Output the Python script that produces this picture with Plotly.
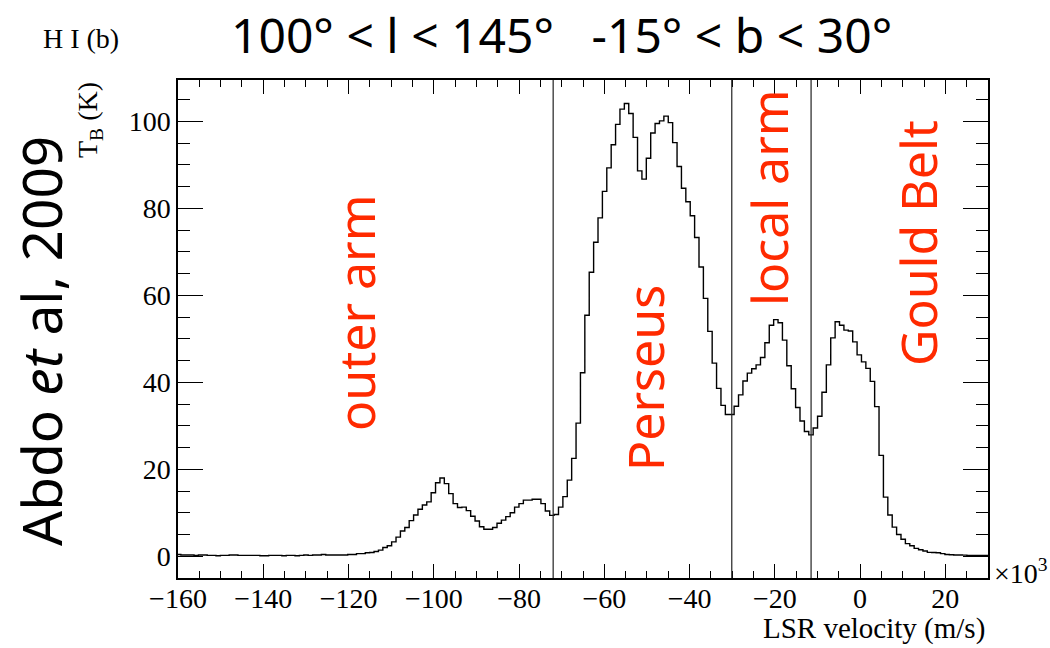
import numpy as np
import plotly.graph_objects as go

# ---- data ----
v_start = -160.36      # km/s, left edge of first channel
v_width = 1.03         # km/s, channel width
tb_values = [
    0.4, 0.3, 0.3, 0.3, 0.2, 0.3, 0.3, 0.2, 0.2, 0.1,
    0.2, 0.2, 0.3, 0.3, 0.2, 0.2, 0.2, 0.2, 0.2, 0.1,
    0.1, 0.2, 0.2, 0.2, 0.1, 0.2, 0.2, 0.1, 0.2, 0.3,
    0.2, 0.3, 0.3, 0.4,
    0.3, 0.3, 0.3, 0.3, 0.3, 0.4, 0.4, 0.6, 0.6, 0.8,
    0.85, 1.1, 1.4, 2.0, 2.4, 3.3, 4.4, 5.8, 6.6, 8.2,
    9.5, 10.8, 11.8, 12.5, 14.6, 16.9, 18.0, 16.7, 14.4, 12.1,
    11.2, 11.3, 10.5, 9.2, 8.1, 6.8, 6.2, 6.2, 6.6, 7.6,
    8.3, 9.1, 10.0, 11.3, 12.1, 12.9, 12.9, 13.1, 13.1, 12.1,
    10.4, 9.4, 9.6, 11.3, 13.7, 17.5, 22.5, 30.6, 42.2, 55.4,
    65.3, 72.2, 77.8, 83.9, 89.3, 94.6, 99.3, 102.8, 104.1, 101.8,
    96.3, 88.6, 86.7, 91.5, 97.3, 99.5, 100.1, 101.2, 99.7, 95.1,
    89.6, 84.6, 81.5, 78.3, 73.3, 66.5, 59.3, 51.7, 44.4, 38.6,
    34.7, 32.6, 32.6, 34.5, 37.1, 40.3, 42.1, 43.1, 44.0, 45.7,
    49.1, 53.1, 54.4, 53.7, 49.7, 43.8, 38.5, 34.2, 31.1, 28.7,
    27.9, 29.5, 32.2, 37.7, 44.0, 50.2, 53.9, 53.1, 52.0, 51.8,
    49.3, 46.3, 44.7, 43.2, 40.2, 34.4, 23.2, 13.6, 9.5, 6.7,
    5.0, 3.9, 2.9, 2.4, 1.8, 1.5, 1.2, 0.9, 0.85, 0.8,
    0.6, 0.4, 0.35, 0.3, 0.3, 0.25, 0.2, 0.2, 0.2, 0.2,
    0.2,
]
arm_boundaries = [-72.0, -30.1, -11.5]
region_labels = ["outer arm", "Perseus", "local arm", "Gould Belt"]
x_ticks = [-160, -140, -120, -100, -80, -60, -40, -20, 0, 20]
y_ticks = [0, 20, 40, 60, 80, 100]

# ---- figure ----
n = len(tb_values)
edges = v_start + v_width * np.arange(n + 1)
yvals = list(tb_values) + [tb_values[-1]]

L, R, T, B = 178, 62, 80, 70
W, H = 1050, 648
pw, ph = W - L - R, H - T - B

def px(xpix):
    return (xpix - L) / pw

def py(ypix):
    return (H - B - ypix) / ph

fig = go.Figure()
fig.add_trace(go.Scatter(
    x=edges, y=yvals, mode="lines", line_shape="hv",
    line=dict(color="black", width=1.4), hoverinfo="skip", showlegend=False,
))

for xb in arm_boundaries:
    fig.add_shape(type="line", x0=xb, x1=xb, xref="x", y0=0, y1=1, yref="paper",
                  line=dict(color="#222222", width=1.2))

serif = "Liberation Serif"
red = "#ff2a00"
label_font = "Noto Sans"

ann = []
ann.append(dict(text="100° < l < 145°   -15° < b < 30°", x=px(561), y=py(35),
                font=dict(family=label_font, size=48, color="black")))
ann.append(dict(text="H I (b)", x=px(81), y=py(38),
                font=dict(family=serif, size=28, color="black")))
ann.append(dict(text="Abdo <i>et</i> al, 2009", x=px(40), y=py(341), textangle=-90,
                font=dict(family=label_font, size=55, color="black")))
ann.append(dict(text="T<sub>B</sub> (K)", x=px(89), y=py(80), yanchor="top", textangle=-90,
                font=dict(family=serif, size=28, color="black")))
label_pos = [(356, 313), (645, 378), (769, 198), (918, 243)]
for txt, (lx, ly) in zip(region_labels, label_pos):
    ann.append(dict(text=txt, x=px(lx), y=py(ly), textangle=-90,
                    font=dict(family=label_font, size=50, color=red)))
ann.append(dict(text="×10<sup>3</sup>", x=px(992), y=py(571), xanchor="left",
                font=dict(family=serif, size=28, color="black")))
ann.append(dict(text="LSR velocity (m/s)", x=px(987), y=py(628), xanchor="right",
                font=dict(family=serif, size=29, color="black")))
for a in ann:
    a.update(xref="paper", yref="paper", showarrow=False)
    a.setdefault("xanchor", "center")
    a.setdefault("yanchor", "middle")

fig.update_layout(
    width=W, height=H,
    margin=dict(l=L, r=R, t=T, b=B),
    paper_bgcolor="white", plot_bgcolor="white",
    annotations=ann,
    xaxis=dict(range=[-160, 30], tickvals=x_ticks, ticks="inside", ticklen=14, tickwidth=1.2,
               tickcolor="black", showline=True, linecolor="black", linewidth=1.5,
               mirror="ticks", showgrid=False, zeroline=False, ticklabelstandoff=-5,
               tickfont=dict(family=serif, size=28, color="black"),
               minor=dict(dtick=5, tick0=0, ticks="inside", ticklen=7, tickcolor="black",
                          tickwidth=1.2, showgrid=False)),
    yaxis=dict(range=[-5, 109.5], tickvals=y_ticks, ticks="inside", ticklen=25, tickwidth=1.2,
               tickcolor="black", showline=True, linecolor="black", linewidth=1.5,
               mirror="ticks", showgrid=False, zeroline=False, ticklabelstandoff=0,
               tickfont=dict(family=serif, size=28, color="black"),
               minor=dict(dtick=5, tick0=0, ticks="inside", ticklen=12, tickcolor="black",
                          tickwidth=1.2, showgrid=False)),
)

fig.write_html("out.html")
